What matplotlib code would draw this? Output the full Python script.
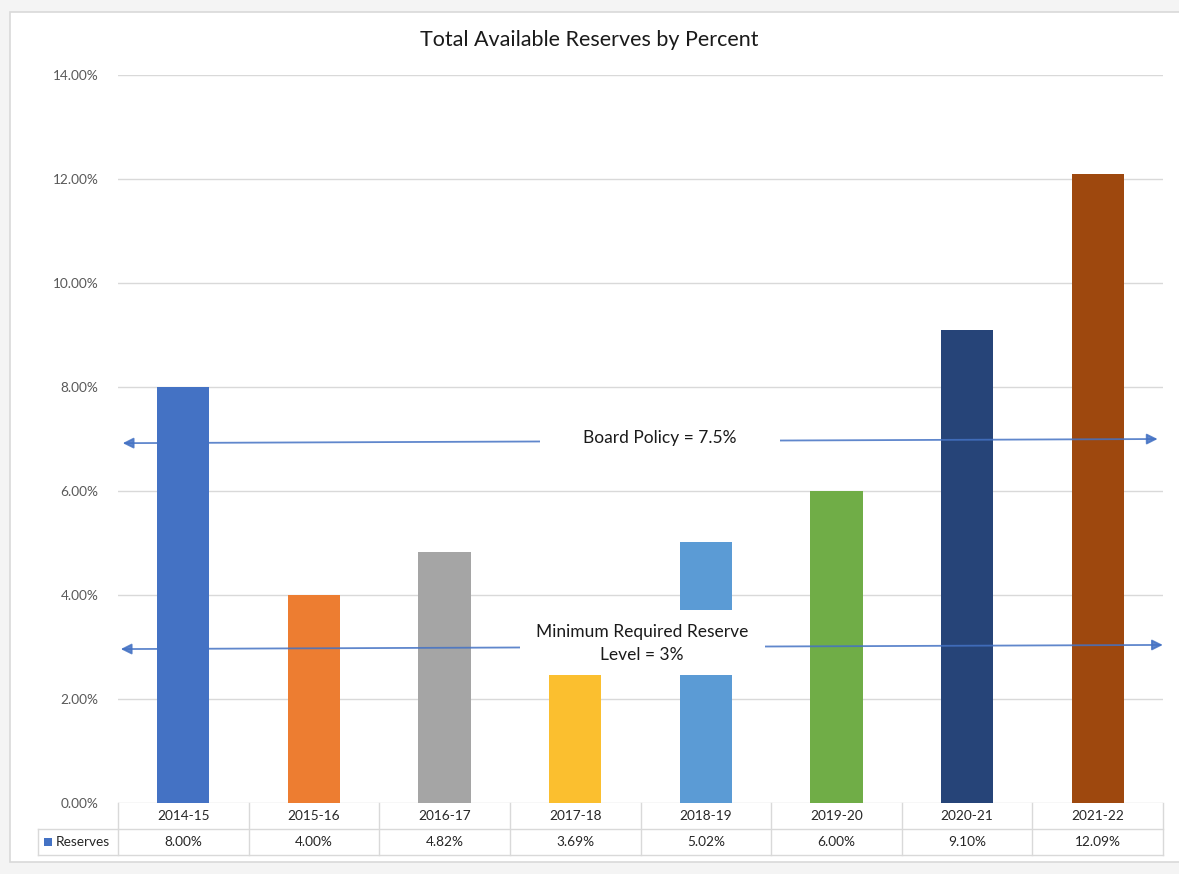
import matplotlib.pyplot as plt
from matplotlib.patches import Rectangle, FancyArrowPatch
from matplotlib.transforms import blended_transform_factory

plt.rcParams['font.family'] = ['Lato', 'DejaVu Sans']

years = ["2014-15", "2015-16", "2016-17", "2017-18", "2018-19", "2019-20", "2020-21", "2021-22"]
reserves = [8.00, 4.00, 4.82, 3.69, 5.02, 6.00, 9.10, 12.09]
bar_colors = ["#4472C4", "#ED7D31", "#A5A5A5", "#FBBF2F", "#5B9BD5", "#70AD47", "#264478", "#9E480E"]
y_ticks = [0, 2, 4, 6, 8, 10, 12, 14]

board_policy = 7.5
min_reserve = 3.0

W, H = 1179, 874
fig = plt.figure(figsize=(W / 100, H / 100), dpi=100)
fig.patch.set_facecolor("#f4f4f4")

# white chart panel with a thin grey frame
fig.patches.append(Rectangle((10 / W, 1 - 862 / H), (W + 20) / W, 850 / H,
                             transform=fig.transFigure, facecolor="white",
                             edgecolor="#d9d9d9", linewidth=1.2, zorder=-10))

ax = fig.add_axes([118 / W, 1 - 803 / H, (1163 - 118) / W, (803 - 75) / H])
ax.set_facecolor("none")
x = list(range(len(years)))
ax.bar(x, reserves, width=0.4, color=bar_colors, zorder=2)

ax.set_xlim(-0.5, len(years) - 0.5)
ax.set_ylim(0, 14)
ax.set_yticks(y_ticks)
ax.set_yticklabels([f"{v:.2f}%" for v in y_ticks], fontsize=9.8, color="#595959")
ax.tick_params(axis="y", length=0, pad=14)
ax.set_xticks([])
ax.grid(axis="y", color="#d9d9d9", linewidth=1, zorder=0)
for s in ax.spines.values():
    s.set_visible(False)

fig.text(0.5, 1 - 40 / H, "Total Available Reserves by Percent",
         ha="center", va="center", fontsize=15.5, color="#1a1a1a")

# reference arrows with white label boxes on top
arrow_kw = dict(arrowstyle="<|-|>", mutation_scale=16, color="#4472C4",
                linewidth=1.3, alpha=0.85, zorder=3, clip_on=False)
ax.add_patch(FancyArrowPatch((-0.485, 6.92), (7.48, 7.0), **arrow_kw))
ax.add_patch(FancyArrowPatch((-0.5, 2.96), (7.52, 3.04), **arrow_kw))

ax.add_patch(Rectangle((2.73, 6.55), 1.84, 0.9, facecolor="white", edgecolor="none", zorder=4))
ax.text(3.65, 7.02, f"Board Policy = {board_policy}%", ha="center", va="center",
        fontsize=12.5, color="#1a1a1a", zorder=5)

ax.add_patch(Rectangle((2.58, 2.47), 1.87, 1.24, facecolor="white", edgecolor="none", zorder=4))
ax.text(3.51, 3.06, f"Minimum Required Reserve\nLevel = {min_reserve:g}%", ha="center",
        va="center", fontsize=12.5, color="#1a1a1a", linespacing=1.55, zorder=5)

# data table under the plot
tr = blended_transform_factory(ax.transData, ax.transAxes)
ph = 803 - 75
r1 = -26 / ph
r2 = -52 / ph
left = -0.5 - 80 / 130.6
grid_c = "#d9d9d9"
line_kw = dict(transform=tr, color=grid_c, linewidth=1, clip_on=False)
ax.plot([-0.5, 7.5], [r1, r1], **line_kw)
ax.plot([left, 7.5], [r2, r2], **line_kw)
ax.plot([left, left], [r1, r2], **line_kw)
for b in range(len(years) + 1):
    ax.plot([b - 0.5, b - 0.5], [0, r2], **line_kw)
ax.plot([left, -0.5], [r1, r1], **line_kw)

for i, (yr, v) in enumerate(zip(years, reserves)):
    ax.text(i, r1 / 2, yr, transform=tr, ha="center", va="center", fontsize=9.8, color="#262626")
    ax.text(i, (r1 + r2) / 2, f"{v:.2f}%", transform=tr, ha="center", va="center",
            fontsize=9.8, color="#262626")

ax.add_patch(Rectangle((left + 6 / 130.6, (r1 + r2) / 2 - 4 / ph), 8 / 130.6, 8 / ph,
                       transform=tr, facecolor="#4472C4", clip_on=False))
ax.text(left + 18 / 130.6, (r1 + r2) / 2, "Reserves", transform=tr, ha="left", va="center",
        fontsize=9.8, color="#262626")

fig.savefig("out.png", dpi=100)
